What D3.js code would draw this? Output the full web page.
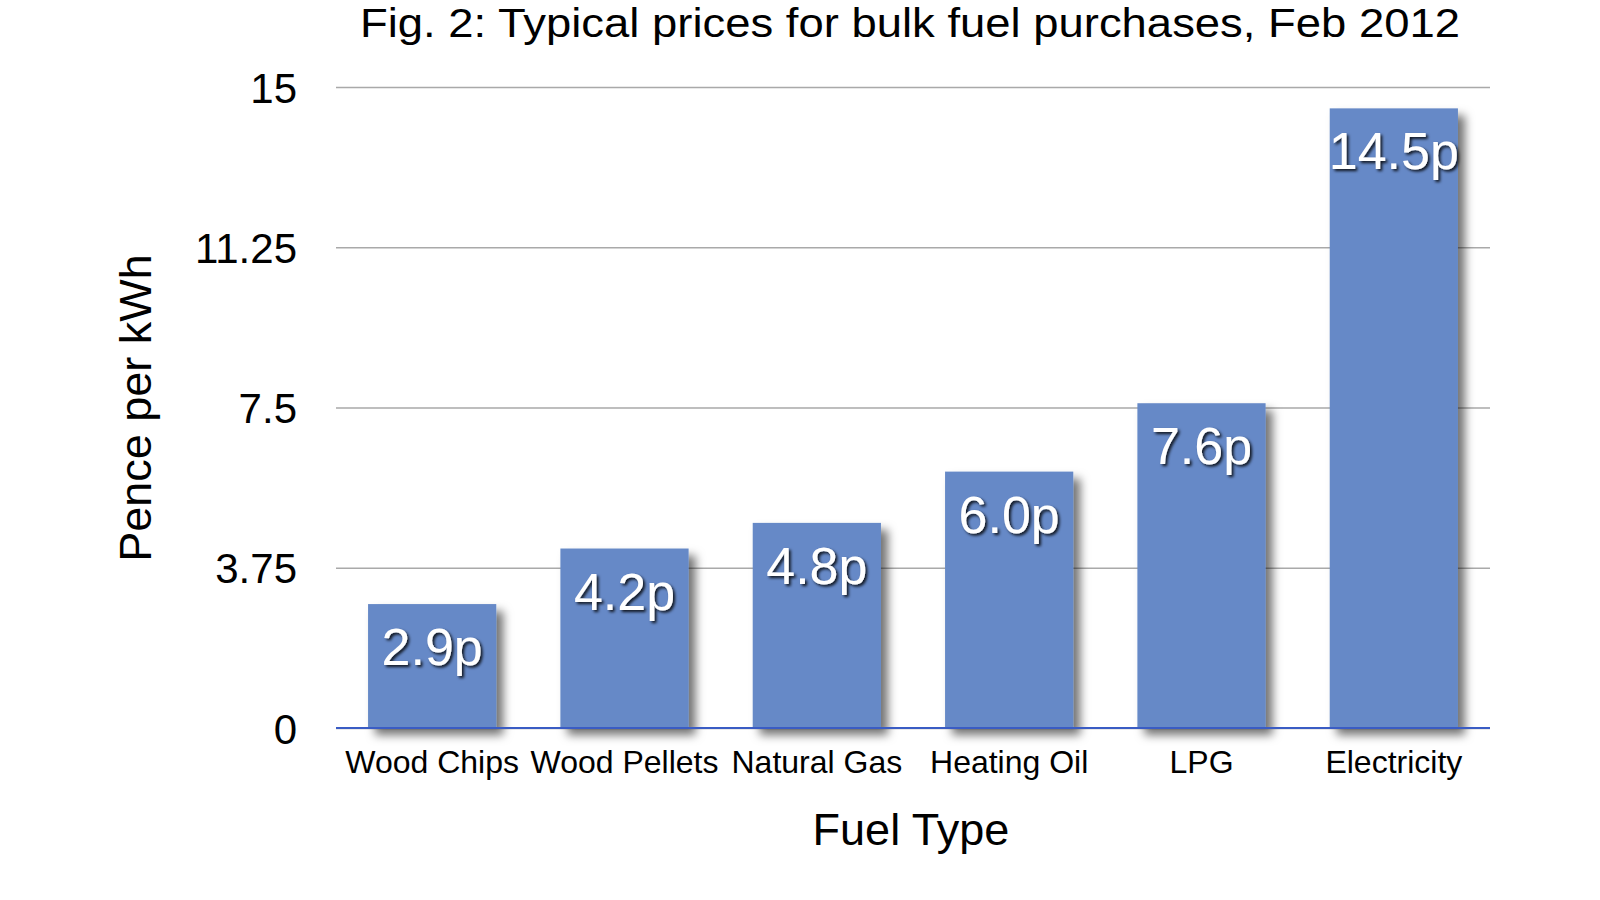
<!doctype html>
<html lang="en">
<head>
<meta charset="utf-8">
<title>Typical prices for bulk fuel purchases, Feb 2012</title>
<style>
  body { margin: 0; background: #fff; }
  svg { display: block; font-family: "Liberation Sans", Arial, Helvetica, sans-serif; }
  .grid line { stroke: #a9a9a9; stroke-width: 1.5px; }
  .grid text { fill: #000; font-size: 42px; }
  .xaxis text { fill: #000; font-size: 32px; }
  .bar-label { fill: #fff; font-size: 52px; text-anchor: middle; }
</style>
</head>
<body>
<svg id="chart" width="1600" height="900"></svg>
<script src="https://cdn.jsdelivr.net/npm/d3@7"></script>
<script>
const fuels = ["Wood Chips", "Wood Pellets", "Natural Gas", "Heating Oil", "LPG", "Electricity"];
const pence = [2.9, 4.2, 4.8, 6.0, 7.6, 14.5];
const yTicks = [0, 3.75, 7.5, 11.25, 15];
const title = "Fig. 2: Typical prices for bulk fuel purchases, Feb 2012";

const plotLeft = 336, plotRight = 1490, plotTop = 87, plotBottom = 728;

const svg = d3.select("#chart");
const defs = svg.append("defs");
defs.append("filter").attr("id", "barShadow").attr("x", "-20%").attr("y", "-20%").attr("width", "150%").attr("height", "150%")
  .append("feDropShadow").attr("dx", 7).attr("dy", 7).attr("stdDeviation", 5)
  .attr("flood-color", "#000").attr("flood-opacity", 0.55);
defs.append("filter").attr("id", "textShadow").attr("x", "-20%").attr("y", "-20%").attr("width", "140%").attr("height", "140%")
  .append("feDropShadow").attr("dx", 2).attr("dy", 2).attr("stdDeviation", 1.5)
  .attr("flood-color", "#000").attr("flood-opacity", 0.85);

const x = d3.scaleBand().domain(fuels).range([plotLeft, plotRight]).paddingInner(1 / 3).paddingOuter(1 / 6);
const y = d3.scaleLinear().domain([0, 15]).range([plotBottom, plotTop]);

// gridlines + y tick labels
svg.append("g").attr("class", "grid").attr("transform", `translate(${plotLeft},0)`)
  .call(d3.axisLeft(y).tickValues(yTicks).tickSize(-(plotRight - plotLeft)).tickPadding(39).tickFormat(d => String(d)))
  .call(g => g.select(".domain").remove())
  .call(g => g.selectAll("text").attr("dy", "0.36em"));

// bars
svg.append("g").selectAll("rect").data(fuels).join("rect")
  .attr("x", d => x(d)).attr("width", x.bandwidth())
  .attr("y", (d, i) => y(pence[i])).attr("height", (d, i) => y(0) - y(pence[i]))
  .attr("fill", "#6689c7").attr("filter", "url(#barShadow)");

// baseline
svg.append("line").attr("x1", plotLeft).attr("x2", plotRight).attr("y1", y(0)).attr("y2", y(0))
  .attr("stroke", "#3a5cc4").attr("stroke-width", 2);

// value labels
svg.append("g").selectAll("text").data(fuels).join("text")
  .attr("class", "bar-label").attr("filter", "url(#textShadow)")
  .attr("x", d => x(d) + x.bandwidth() / 2)
  .attr("y", (d, i) => y(pence[i]) + 61)
  .text((d, i) => pence[i].toFixed(1) + "p");

// x axis labels
svg.append("g").attr("class", "xaxis").attr("transform", `translate(0,${plotBottom})`)
  .call(d3.axisBottom(x).tickSize(0).tickPadding(22))
  .call(g => g.select(".domain").remove());

// titles
svg.append("text").attr("x", 910).attr("y", 37).attr("text-anchor", "middle")
  .attr("font-size", 41).attr("textLength", 1100).attr("lengthAdjust", "spacingAndGlyphs")
  .text(title);
svg.append("text").attr("x", 911).attr("y", 845).attr("text-anchor", "middle")
  .attr("font-size", 45).text("Fuel Type");
svg.append("text").attr("transform", "translate(151,408) rotate(-90)").attr("text-anchor", "middle")
  .attr("font-size", 45).text("Pence per kWh");
</script>
</body>
</html>
